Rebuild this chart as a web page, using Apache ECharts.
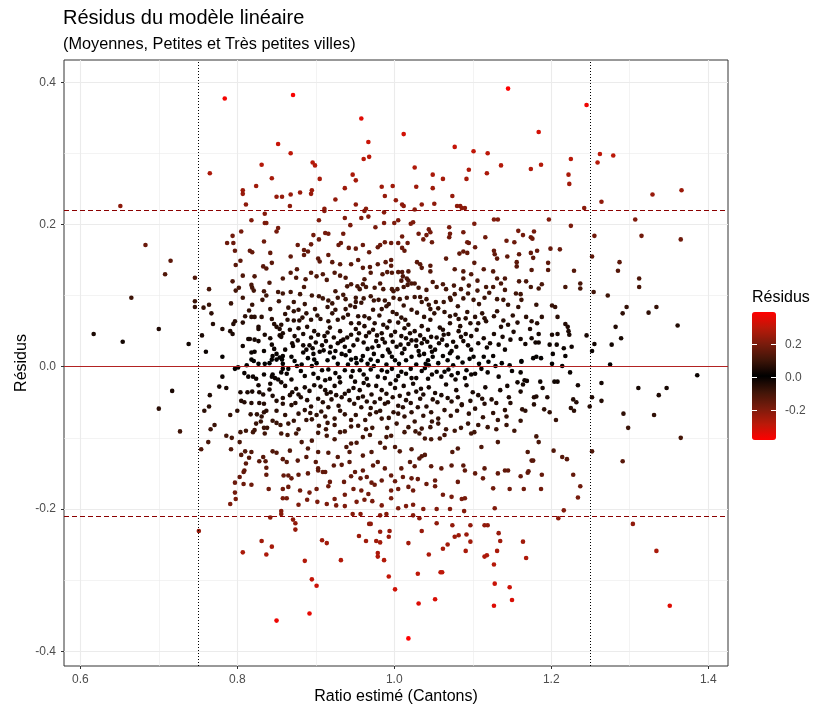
<!DOCTYPE html>
<html>
<head>
<meta charset="utf-8">
<script src="https://cdn.jsdelivr.net/npm/echarts@6/dist/echarts.min.js"></script>
<style>
  html, body { margin: 0; padding: 0; background: #fff; }
  #chart-container { width: 814px; height: 710px; }
</style>
</head>
<body>
<div id="chart-container"></div>
<script>
// axis ticks and reference lines
var xTicks = [0.6, 0.8, 1.0, 1.2, 1.4];
var xMinor = [0.7, 0.9, 1.1, 1.3];
var yTicks = [-0.4, -0.2, 0.0, 0.2, 0.4];
var yMinor = [-0.3, -0.1, 0.1, 0.3];
var seuilsRatio = [0.75, 1.25];
var seuilsResidus = [-0.2053, 0.2157];
var legendTicks = [-0.2, 0.0, 0.2];

// [ratio estimé, résidu]
var points = [
  [0.784,0.377],[0.852,0.313],[0.765,0.272],[0.831,0.284],[0.844,0.265],[0.824,0.254],[0.807,0.248],[0.807,0.243],[0.850,0.239],[0.857,0.239],[0.811,0.228],[0.651,0.226],
  [0.871,0.382],[0.958,0.349],[0.967,0.316],[1.012,0.327],[0.868,0.300],[1.077,0.309],[1.101,0.303],[1.119,0.300],[1.145,0.391],[0.896,0.287],[0.899,0.283],[0.961,0.292],[0.968,0.295],[0.905,0.264],[0.947,0.270],[0.951,0.262],[0.937,0.251],[0.925,0.235],[0.868,0.242],[0.880,0.245],[0.894,0.243],[0.895,0.248],[0.867,0.226],[0.911,0.222],[0.951,0.228],[0.964,0.222],[0.984,0.253],[0.988,0.240],[0.998,0.254],[1.002,0.234],[1.010,0.228],[1.012,0.226],[1.026,0.280],[1.028,0.253],[1.026,0.221],[1.035,0.228],[1.049,0.270],[1.049,0.251],[1.051,0.229],[1.062,0.264],[1.074,0.240],[1.080,0.226],[1.084,0.226],[1.086,0.223],[1.090,0.223],[1.092,0.264],[1.095,0.277],[1.118,0.272],[1.136,0.283],
  [1.245,0.368],[1.184,0.330],[1.225,0.292],[1.262,0.299],[1.279,0.297],[1.259,0.287],[1.174,0.278],[1.187,0.284],[1.222,0.270],[1.223,0.257],[1.329,0.242],[1.366,0.248],[1.264,0.232],[1.242,0.223],
  [0.683,0.171],[0.715,0.149],[0.708,0.130],[0.746,0.125],[0.665,0.097],[0.617,0.046],[0.654,0.035],[0.700,0.053],[0.738,0.032],[0.746,0.092],[0.746,0.084],[0.764,0.109],[0.757,0.083],[0.764,0.087],[0.767,0.075],[0.769,0.060],[0.755,0.044],[0.760,0.021],[0.781,0.053],[0.781,0.014],[0.791,0.050],[0.794,0.046],[0.792,0.089],[0.794,0.120],[0.795,0.060],[0.797,0.064],[0.787,0.174],[0.794,0.184],[0.795,0.174],[0.805,0.190],[0.797,0.163],[0.798,0.143],[0.804,0.149],[0.807,0.128],[0.798,0.107],[0.802,0.111],[0.807,0.097],[0.807,0.062],[0.807,0.029],[0.818,0.206],[0.835,0.215],[0.835,0.202],[0.837,0.202],[0.850,0.190],[0.852,0.195],[0.834,0.176],[0.816,0.163],[0.819,0.161],[0.842,0.160],[0.844,0.146],[0.833,0.141],[0.837,0.138],[0.822,0.127],[0.841,0.118],[0.858,0.124],[0.818,0.115],[0.819,0.111],[0.821,0.107],[0.834,0.106],[0.837,0.100],[0.852,0.105],[0.858,0.103],[0.819,0.087],[0.815,0.079],[0.810,0.071],[0.818,0.070],[0.822,0.070],[0.831,0.070],[0.842,0.081],[0.827,0.056],[0.827,0.053],[0.844,0.067],[0.847,0.060],[0.850,0.056],[0.856,0.059],[0.854,0.053],[0.814,0.039],[0.816,0.039],[0.822,0.038],[0.827,0.036],[0.842,0.040],[0.854,0.044],[0.856,0.042],[0.844,0.031],[0.818,0.020],[0.822,0.021],[0.845,0.015],[0.850,0.018],[0.854,0.013],[0.858,0.015],[0.818,0.010],[0.821,0.008],[0.844,0.010],[0.850,0.010],[0.857,0.010],
  [0.904,0.206],[0.937,0.209],[0.944,0.199],[0.958,0.209],[0.967,0.211],[0.987,0.202],[0.976,0.196],[1.000,0.202],[1.005,0.206],[1.021,0.201],[1.024,0.203],[1.044,0.193],[1.041,0.185],[1.046,0.189],[1.070,0.196],[1.071,0.187],[1.088,0.189],[1.102,0.201],[1.116,0.182],[1.127,0.207],[1.132,0.207],[0.987,0.217],[0.911,0.219],[0.962,0.219],
  [0.897,0.185],[0.904,0.179],[0.912,0.188],[0.916,0.187],[0.877,0.171],[0.885,0.164],[0.890,0.162],[0.894,0.172],[0.885,0.157],[0.868,0.155],[0.929,0.171],[0.932,0.174],[0.935,0.187],[0.942,0.167],[0.951,0.166],[0.960,0.171],[0.968,0.161],[0.979,0.168],[0.982,0.171],[0.988,0.175],[0.996,0.174],[1.005,0.174],[1.010,0.183],[1.010,0.167],[1.013,0.163],[1.017,0.174],[1.031,0.187],[1.037,0.179],[1.048,0.175],[1.070,0.182],[1.093,0.175],[1.095,0.174],[1.103,0.168],[1.088,0.162],[1.083,0.159],[1.093,0.160],[1.127,0.163],[1.128,0.158],[1.131,0.152],
  [0.916,0.157],[0.903,0.152],[0.905,0.148],[0.921,0.147],[0.931,0.144],[0.945,0.144],[0.954,0.150],[0.960,0.139],[0.969,0.140],[0.970,0.132],[0.979,0.144],[0.989,0.147],[0.996,0.150],[0.996,0.142],[0.997,0.132],[0.985,0.130],[0.991,0.133],[1.005,0.133],[1.010,0.133],[1.011,0.127],[1.018,0.134],[1.016,0.124],[1.022,0.117],[1.029,0.147],[1.033,0.144],[1.035,0.139],[1.046,0.142],[1.046,0.134],[1.066,0.152],[1.077,0.137],[1.088,0.134],[1.088,0.124],[1.098,0.130],[1.102,0.146],[1.106,0.121],[1.114,0.137],[1.126,0.134],[1.131,0.124],[1.141,0.124],[0.868,0.132],[0.876,0.137],[0.875,0.125],[0.887,0.123],[0.894,0.132],[0.901,0.127],[0.914,0.122],[0.909,0.130],[0.924,0.132],[0.931,0.128],[0.938,0.125],[0.940,0.113],[0.945,0.116],[0.953,0.113],[0.956,0.109],[0.960,0.116],[0.964,0.112],[0.962,0.123],[0.975,0.111],[0.986,0.109],[0.997,0.109],[1.004,0.109],[0.999,0.106],[1.009,0.121],[1.012,0.112],[1.017,0.115],[1.018,0.121],[1.026,0.117],[1.031,0.111],[1.041,0.108],[1.054,0.112],[1.062,0.116],[1.066,0.109],[1.076,0.114],[1.085,0.109],[1.095,0.114],[1.106,0.107],[1.117,0.112],[1.126,0.112],[1.136,0.117],[1.141,0.108],
  [0.868,0.105],[0.880,0.102],[0.895,0.100],[0.904,0.099],[0.909,0.096],[0.916,0.093],[0.928,0.097],[0.938,0.095],[0.951,0.097],[0.951,0.091],[0.961,0.096],[0.970,0.099],[0.974,0.093],[0.980,0.094],[0.988,0.093],[0.999,0.097],[1.007,0.095],[1.016,0.097],[1.026,0.098],[1.033,0.098],[1.035,0.091],[1.041,0.095],[1.053,0.091],[1.063,0.091],[1.071,0.097],[1.072,0.094],[1.077,0.102],[1.088,0.096],[1.101,0.094],[1.115,0.097],[1.131,0.095],[1.139,0.094],[0.865,0.083],[0.878,0.080],[0.888,0.075],[0.899,0.081],[0.915,0.084],[0.925,0.080],[0.938,0.081],[0.950,0.084],[0.954,0.071],[0.962,0.071],[0.973,0.080],[0.984,0.081],[0.990,0.085],[0.998,0.077],[1.009,0.069],[1.022,0.080],[1.029,0.076],[1.046,0.081],[1.056,0.082],[1.064,0.077],[1.071,0.071],[1.082,0.067],[1.093,0.077],[1.103,0.070],[1.115,0.068],[1.127,0.071],[1.139,0.065],[0.864,0.066],[0.872,0.065],[0.879,0.065],[0.894,0.066],[0.906,0.067],[0.916,0.064],[0.928,0.066],[0.935,0.069],[0.945,0.061],[0.955,0.061],[0.975,0.061],[0.986,0.059],[0.994,0.064],[1.005,0.062],[1.018,0.059],[1.035,0.057],[1.046,0.066],[1.058,0.055],[1.071,0.061],[1.084,0.057],[1.097,0.061],[1.107,0.061],[1.117,0.064],[1.136,0.056],
  [0.867,0.052],[0.878,0.054],[0.884,0.046],[0.894,0.041],[0.903,0.045],[0.911,0.043],[0.915,0.048],[0.923,0.041],[0.935,0.038],[0.945,0.045],[0.955,0.047],[0.964,0.043],[0.973,0.052],[0.984,0.047],[0.996,0.044],[1.009,0.043],[1.020,0.047],[1.028,0.037],[1.038,0.039],[1.047,0.042],[1.054,0.041],[1.063,0.045],[1.075,0.035],[1.085,0.042],[1.098,0.043],[1.114,0.040],[1.122,0.033],[0.870,0.033],[0.871,0.029],[0.884,0.030],[0.892,0.030],[0.900,0.034],[0.908,0.030],[0.919,0.028],[0.928,0.033],[0.937,0.028],[0.948,0.030],[0.961,0.034],[0.972,0.027],[0.980,0.029],[0.988,0.034],[0.998,0.035],[1.008,0.031],[1.018,0.032],[1.028,0.029],[1.035,0.033],[1.046,0.028],[1.057,0.033],[1.067,0.030],[1.079,0.028],[1.094,0.030],[1.107,0.033],[0.869,0.014],[0.884,0.020],[0.897,0.018],[0.910,0.023],[0.923,0.013],[0.938,0.016],[0.951,0.012],[0.960,0.015],[0.974,0.018],[0.985,0.015],[0.997,0.014],[1.010,0.019],[1.022,0.014],[1.038,0.018],[1.049,0.014],[1.062,0.015],[1.081,0.013],[1.101,0.014],[1.114,0.014],[1.126,0.015],[0.898,0.010],[0.945,0.010],[0.958,0.009],[0.970,0.010],[1.001,0.009],[1.043,0.009],
  [1.197,0.207],[1.225,0.198],[1.307,0.207],[1.255,0.184],[1.315,0.184],[1.365,0.179],[1.158,0.191],[1.164,0.185],[1.174,0.182],[1.176,0.180],[1.178,0.190],[1.153,0.175],[1.143,0.177],[1.199,0.166],[1.211,0.165],[1.159,0.158],[1.174,0.160],[1.177,0.153],[1.182,0.163],[1.144,0.155],[1.156,0.147],[1.156,0.141],[1.196,0.146],[1.196,0.136],[1.175,0.136],[1.229,0.135],[1.252,0.155],[1.287,0.147],[1.285,0.135],[1.312,0.124],[1.312,0.112],[1.159,0.120],[1.168,0.120],[1.174,0.112],[1.184,0.110],[1.188,0.116],[1.218,0.112],[1.237,0.117],[1.237,0.110],[1.254,0.105],[1.272,0.100],[1.155,0.103],[1.161,0.102],[1.162,0.094],[1.145,0.087],[1.158,0.084],[1.181,0.087],[1.201,0.086],[1.205,0.084],[1.296,0.084],[1.291,0.075],[1.324,0.076],[1.334,0.084],[1.361,0.058],[1.282,0.056],[1.289,0.040],[1.277,0.031],[1.255,0.032],[1.252,0.022],[1.245,0.044],[1.208,0.070],[1.188,0.070],[1.168,0.070],[1.175,0.064],[1.182,0.061],[1.157,0.062],[1.145,0.059],[1.173,0.053],[1.184,0.046],[1.218,0.060],[1.221,0.056],[1.222,0.050],[1.223,0.045],[1.201,0.045],[1.208,0.046],[1.148,0.038],[1.161,0.039],[1.175,0.040],[1.167,0.032],[1.180,0.034],[1.184,0.034],[1.198,0.031],[1.207,0.031],[1.226,0.028],[1.216,0.026],[1.218,0.015],[1.202,0.018],[1.177,0.012],[1.181,0.014],[1.187,0.012],[1.162,0.008],
  [0.717,-0.034],[0.700,-0.059],[0.727,-0.091],[0.781,-0.014],[0.777,-0.028],[0.786,-0.030],[0.765,-0.040],[0.764,-0.056],[0.758,-0.062],[0.766,-0.088],[0.771,-0.082],[0.763,-0.106],[0.754,-0.116],[0.786,-0.097],[0.793,-0.100],[0.791,-0.068],[0.800,-0.062],[0.792,-0.116],[0.803,-0.106],[0.797,-0.003],[0.801,-0.001],[0.809,-0.009],[0.814,-0.014],[0.820,-0.014],[0.824,-0.017],[0.804,-0.036],[0.813,-0.036],[0.819,-0.035],[0.828,-0.036],[0.827,-0.026],[0.833,-0.039],[0.805,-0.048],[0.809,-0.050],[0.818,-0.051],[0.828,-0.051],[0.834,-0.052],[0.817,-0.067],[0.825,-0.067],[0.834,-0.064],[0.837,-0.062],[0.850,-0.062],[0.831,-0.070],[0.845,-0.076],[0.850,-0.079],[0.855,-0.082],[0.824,-0.080],[0.830,-0.077],[0.822,-0.089],[0.820,-0.092],[0.834,-0.086],[0.838,-0.086],[0.835,-0.094],[0.804,-0.092],[0.811,-0.090],[0.810,-0.119],[0.818,-0.120],[0.805,-0.124],[0.815,-0.128],[0.811,-0.136],[0.809,-0.146],[0.808,-0.148],[0.828,-0.133],[0.833,-0.127],[0.836,-0.133],[0.837,-0.142],[0.837,-0.152],[0.845,-0.119],[0.850,-0.121],[0.858,-0.130],[0.859,-0.153],[0.803,-0.155],[0.797,-0.163],[0.808,-0.165],[0.818,-0.166],[0.797,-0.177],[0.798,-0.186],[0.791,-0.193],[0.840,-0.172],[0.858,-0.172],[0.858,-0.185],[0.856,-0.203],[0.845,-0.011],[0.848,-0.016],[0.841,-0.032],[0.844,-0.014],[0.835,0.004],[0.841,0.005],[0.856,-0.022],[0.856,-0.008],[0.850,-0.048],[0.858,-0.044],[0.858,-0.003],
  [0.863,-0.010],[0.876,0.001],[0.895,0.001],[0.908,-0.005],[0.925,-0.009],[0.937,-0.005],[0.956,-0.005],[0.974,0.001],[0.984,-0.005],[0.991,-0.007],[1.009,-0.007],[1.021,-0.003],[1.035,-0.006],[1.044,0.002],[1.054,-0.007],[1.064,-0.007],[1.081,-0.009],[1.092,-0.005],[1.103,-0.010],[1.119,-0.008],[1.129,0.001],[0.865,-0.003],[0.886,-0.013],[0.903,-0.016],[0.918,-0.017],[0.945,-0.014],[0.965,-0.017],[0.988,-0.016],[1.005,-0.013],[1.022,-0.016],[1.043,-0.017],[1.060,-0.014],[1.073,-0.012],[1.090,-0.016],
  [0.875,-0.031],[0.886,-0.029],[0.898,-0.026],[0.912,-0.033],[0.924,-0.027],[0.926,-0.040],[0.937,-0.038],[0.948,-0.030],[0.956,-0.033],[0.967,-0.026],[0.971,-0.039],[0.984,-0.033],[1.001,-0.030],[1.007,-0.041],[1.018,-0.038],[1.028,-0.035],[1.037,-0.039],[1.049,-0.046],[1.060,-0.040],[1.073,-0.049],[1.086,-0.053],[1.107,-0.040],[1.124,-0.046],[0.867,-0.040],[0.878,-0.039],[0.889,-0.047],[0.903,-0.045],[0.914,-0.038],[0.933,-0.043],[0.943,-0.047],[0.954,-0.044],[0.965,-0.049],[0.975,-0.050],[0.992,-0.050],[1.015,-0.047],
  [0.869,-0.054],[0.878,-0.066],[0.886,-0.061],[0.901,-0.068],[0.907,-0.063],[0.916,-0.057],[0.924,-0.073],[0.937,-0.067],[0.945,-0.075],[0.958,-0.057],[0.969,-0.067],[0.977,-0.064],[0.988,-0.052],[0.999,-0.064],[1.011,-0.057],[1.022,-0.064],[1.030,-0.057],[1.047,-0.064],[1.056,-0.073],[1.064,-0.061],[1.086,-0.054],[1.103,-0.059],[1.115,-0.052],[1.132,-0.075],[1.141,-0.061],[0.865,-0.080],[0.888,-0.075],[0.895,-0.074],[0.924,-0.082],[0.954,-0.083],[0.972,-0.086],[0.984,-0.073],[1.003,-0.080],[1.035,-0.087],[1.056,-0.080],[1.077,-0.090],[1.094,-0.080],[1.107,-0.082],[1.119,-0.085],
  [0.864,-0.096],[0.875,-0.094],[0.882,-0.106],[0.895,-0.104],[0.903,-0.093],[0.914,-0.097],[0.924,-0.102],[0.931,-0.092],[0.939,-0.113],[0.945,-0.108],[0.952,-0.107],[0.960,-0.099],[0.969,-0.096],[0.982,-0.107],[0.990,-0.099],[0.996,-0.097],[1.007,-0.119],[1.013,-0.092],[1.022,-0.116],[1.032,-0.094],[1.039,-0.101],[1.047,-0.102],[1.058,-0.101],[1.064,-0.096],[1.074,-0.120],[1.081,-0.115],[1.098,-0.094],[1.111,-0.113],[1.132,-0.106],[0.867,-0.118],[0.890,-0.115],[0.903,-0.120],[0.916,-0.121],[0.928,-0.127],[0.943,-0.120],[0.960,-0.125],[0.971,-0.120],[0.988,-0.114],[1.001,-0.113],[1.035,-0.126],
  [0.863,-0.134],[0.877,-0.132],[0.888,-0.127],[0.900,-0.134],[0.903,-0.143],[0.912,-0.148],[0.923,-0.139],[0.933,-0.138],[0.943,-0.134],[0.950,-0.148],[0.960,-0.146],[0.965,-0.155],[0.973,-0.139],[0.979,-0.134],[0.988,-0.143],[0.996,-0.153],[1.009,-0.143],[1.011,-0.155],[1.020,-0.134],[1.026,-0.140],[1.032,-0.129],[1.039,-0.124],[1.047,-0.140],[1.060,-0.143],[1.073,-0.139],[1.088,-0.139],[1.090,-0.146],[1.103,-0.150],[1.115,-0.143],[1.132,-0.150],[0.865,-0.153],[0.869,-0.157],[0.878,-0.152],[0.890,-0.150],[0.903,-0.146],[0.909,-0.148],[0.918,-0.162],[0.936,-0.162],[0.945,-0.154],[0.957,-0.157],[0.971,-0.163],[0.984,-0.160],[1.001,-0.161],[1.022,-0.157],[1.030,-0.158],[1.052,-0.160],[1.081,-0.162],[1.113,-0.157],[1.141,-0.146],
  [0.865,-0.169],[0.880,-0.174],[0.892,-0.177],[0.901,-0.172],[0.916,-0.168],[0.924,-0.186],[0.937,-0.180],[0.948,-0.172],[0.958,-0.174],[0.967,-0.179],[0.975,-0.166],[0.996,-0.174],[1.005,-0.172],[1.018,-0.169],[1.024,-0.174],[1.041,-0.165],[1.052,-0.168],[1.062,-0.180],[1.073,-0.183],[1.086,-0.186],[1.090,-0.185],[1.126,-0.171],[0.863,-0.185],[0.878,-0.194],[0.889,-0.187],[0.902,-0.190],[0.914,-0.193],[0.926,-0.195],[0.937,-0.196],[0.952,-0.190],[0.962,-0.187],[0.972,-0.189],[0.984,-0.195],[0.996,-0.185],[1.005,-0.199],[1.015,-0.196],[1.024,-0.194],[1.037,-0.200],[1.054,-0.200],[1.071,-0.200],[1.089,-0.203],[1.128,-0.199],
  [1.147,0.002],[1.162,0.007],[1.201,0.004],[1.214,0.001],[1.275,0.003],[1.386,-0.012],[1.224,-0.008],[1.161,-0.008],[1.157,-0.022],[1.164,-0.025],[1.166,-0.019],[1.169,-0.020],[1.144,-0.027],[1.186,-0.021],[1.189,-0.030],[1.204,-0.021],[1.208,-0.021],[1.234,-0.026],[1.264,-0.023],[1.161,-0.035],[1.178,-0.043],[1.181,-0.042],[1.195,-0.043],[1.148,-0.051],[1.178,-0.053],[1.252,-0.043],[1.264,-0.048],[1.311,-0.030],[1.337,-0.040],[1.347,-0.030],[1.228,-0.046],[1.232,-0.050],[1.225,-0.058],[1.229,-0.062],[1.249,-0.056],[1.163,-0.060],[1.167,-0.062],[1.191,-0.060],[1.198,-0.064],[1.143,-0.070],[1.161,-0.076],[1.206,-0.075],[1.292,-0.066],[1.331,-0.068],[1.298,-0.086],[1.143,-0.082],[1.153,-0.090],[1.181,-0.098],[1.184,-0.106],[1.365,-0.100],[1.252,-0.119],[1.291,-0.133],[1.170,-0.120],[1.175,-0.132],[1.177,-0.132],[1.203,-0.118],[1.214,-0.127],[1.220,-0.130],[1.145,-0.146],[1.170,-0.149],[1.171,-0.147],[1.161,-0.154],[1.188,-0.152],[1.228,-0.152],[1.237,-0.168],[1.147,-0.172],[1.165,-0.172],[1.187,-0.172],[1.234,-0.184],[1.216,-0.202],
  [0.751,-0.231],[0.807,-0.261],[0.831,-0.245],[0.844,-0.253],[0.837,-0.264],[0.842,-0.212],[0.856,-0.207],[0.850,-0.357],
  [0.871,-0.215],[0.874,-0.220],[0.874,-0.229],[0.886,-0.273],[0.895,-0.299],[0.901,-0.308],[0.892,-0.347],[0.908,-0.244],[0.914,-0.248],[0.932,-0.272],[0.955,-0.238],[0.964,-0.245],[0.968,-0.221],[0.970,-0.221],[0.982,-0.209],[0.990,-0.207],[0.982,-0.232],[0.977,-0.245],[0.982,-0.247],[0.979,-0.262],[0.979,-0.267],[0.987,-0.272],[0.993,-0.239],[0.994,-0.231],[0.993,-0.295],[1.001,-0.313],[1.018,-0.248],[1.024,-0.209],[1.032,-0.213],[1.035,-0.231],[1.030,-0.291],[1.031,-0.333],[1.018,-0.382],[1.044,-0.264],[1.052,-0.327],[1.054,-0.220],[1.059,-0.289],[1.061,-0.289],[1.062,-0.256],[1.068,-0.250],[1.074,-0.223],[1.077,-0.239],[1.082,-0.237],[1.091,-0.259],[1.092,-0.236],[1.097,-0.223],[1.097,-0.246],[1.115,-0.223],[1.119,-0.223],[1.133,-0.234],[1.135,-0.245],[1.115,-0.267],[1.118,-0.265],[1.131,-0.259],[1.127,-0.278],[1.128,-0.305],[1.127,-0.336],[0.947,-0.207],[0.957,-0.207],
  [1.209,-0.213],[1.304,-0.221],[1.164,-0.246],[1.168,-0.269],[1.334,-0.259],[1.147,-0.310],[1.150,-0.328],[1.351,-0.336],
  // denser core, estimated where the marks overlap
  [0.872,0.091],[0.886,0.088],[0.921,0.089],[0.944,0.086],[0.958,0.090],[0.993,0.088],[1.012,0.086],[1.044,0.087],[1.081,0.085],[1.108,0.088],[0.853,0.092],[0.832,0.094],
  [0.861,0.074],[0.883,0.069],[0.902,0.072],[0.921,0.075],[0.941,0.073],[0.968,0.068],[0.981,0.072],[1.003,0.074],[1.014,0.066],[1.038,0.070],[1.051,0.075],[1.078,0.073],[1.091,0.068],[1.112,0.075],[1.131,0.078],[1.151,0.072],[0.872,0.078],
  [0.858,0.047],[0.873,0.043],[0.889,0.056],[0.898,0.050],[0.918,0.055],[0.931,0.050],[0.951,0.053],[0.962,0.057],[0.978,0.044],[0.991,0.055],[1.001,0.049],[1.013,0.054],[1.026,0.050],[1.033,0.044],[1.043,0.052],[1.062,0.052],[1.069,0.046],[1.082,0.050],[1.091,0.046],[1.105,0.052],[1.127,0.046],[1.138,0.042],[1.152,0.049],[0.835,0.045],[0.940,0.041],[0.968,0.048],[1.015,0.040],
  [0.861,0.024],[0.877,0.037],[0.888,0.024],[0.896,0.026],[0.913,0.036],[0.925,0.022],[0.932,0.036],[0.943,0.022],[0.953,0.038],[0.966,0.025],[0.977,0.036],[0.992,0.024],[1.003,0.028],[1.013,0.025],[1.022,0.037],[1.031,0.022],[1.042,0.035],[1.052,0.024],[1.061,0.038],[1.073,0.022],[1.088,0.036],[1.098,0.024],[1.118,0.027],[1.133,0.031],[1.141,0.024],[0.847,0.025],[0.834,0.022],[0.905,0.021],[0.985,0.039],[1.048,0.021],
  [0.858,0.004],[0.873,0.008],[0.882,0.003],[0.890,0.012],[0.901,0.005],[0.915,0.009],[0.928,0.004],[0.933,0.018],[0.941,0.003],[0.952,0.005],[0.966,0.004],[0.979,0.008],[0.990,0.003],[0.994,0.020],[1.006,0.004],[1.015,0.009],[1.028,0.003],[1.032,0.016],[1.040,0.004],[1.056,0.005],[1.068,0.009],[1.075,0.002],[1.087,0.006],[1.096,0.011],[1.108,0.004],[1.120,0.007],[1.137,0.005],[0.827,0.004],[0.812,0.002],[0.918,0.020],[1.071,0.019],
  [0.869,-0.018],[0.881,-0.006],[0.897,-0.010],[0.916,-0.004],[0.930,-0.015],[0.947,-0.006],[0.961,-0.011],[0.970,-0.004],[0.979,-0.014],[0.997,-0.003],[1.002,-0.019],[1.015,-0.010],[1.028,-0.016],[1.048,-0.011],[1.069,-0.004],[1.078,-0.018],[1.098,-0.011],[1.111,-0.003],[1.133,-0.014],[1.150,-0.006],[0.834,-0.011],[0.852,-0.018],[0.912,-0.019],[1.039,-0.002],
  [0.861,-0.027],[0.870,-0.036],[0.892,-0.034],[0.906,-0.028],[0.919,-0.036],[0.931,-0.022],[0.942,-0.034],[0.961,-0.023],[0.977,-0.027],[0.990,-0.038],[0.995,-0.024],[1.012,-0.027],[1.024,-0.024],[1.044,-0.029],[1.052,-0.037],[1.066,-0.025],[1.079,-0.033],[1.092,-0.026],[1.100,-0.036],[1.116,-0.029],[1.135,-0.033],[0.842,-0.024],[0.950,-0.021],[1.034,-0.031],
  [0.858,-0.052],[0.874,-0.051],[0.881,-0.043],[0.894,-0.056],[0.909,-0.050],[0.920,-0.046],[0.929,-0.055],[0.949,-0.052],[0.960,-0.042],[0.982,-0.045],[0.998,-0.043],[1.005,-0.055],[1.021,-0.051],[1.033,-0.045],[1.041,-0.056],[1.055,-0.050],[1.068,-0.044],[1.081,-0.043],[1.097,-0.048],[1.112,-0.045],[1.130,-0.051],[1.146,-0.043],[0.845,-0.041],[0.970,-0.058],
  [0.861,-0.068],[0.872,-0.076],[0.893,-0.065],[0.912,-0.070],[0.931,-0.062],[0.951,-0.068],[0.963,-0.075],[0.982,-0.062],[0.993,-0.072],[1.013,-0.070],[1.026,-0.077],[1.037,-0.069],[1.048,-0.077],[1.072,-0.069],[1.080,-0.062],[1.095,-0.066],[1.113,-0.071],[1.126,-0.065],[0.915,-0.079],[1.005,-0.066],
  [0.878,-0.088],[0.904,-0.083],[0.913,-0.088],[0.937,-0.091],[0.945,-0.084],[0.964,-0.088],[0.991,-0.086],[1.018,-0.085],[1.027,-0.091],[1.046,-0.085],[1.066,-0.088],[1.085,-0.086],[1.102,-0.092],[1.130,-0.088],[0.856,-0.094],
  [0.885,0.112],[0.925,0.106],[0.982,0.117],[1.049,0.119],[1.094,0.103],[0.935,0.101],[1.121,0.104]
];

var chartDom = document.getElementById("chart-container");
var myChart = echarts.init(chartDom);

var FONT = "Liberation Sans, Arial, sans-serif";
var legMin = -0.382, legMax = 0.392;
var barLeft = 752, barTop = 312, barW = 24, barH = 128;
var coulRes = ["#ff0000", "#ba1909", "#7a1b0c", "#401508", "#000000", "#401508", "#7a1b0c", "#ba1909", "#ff0000"];

function vLines(vals, style) {
  return vals.map(function (v) { return { xAxis: v, lineStyle: style }; });
}
function hLines(vals, style) {
  return vals.map(function (v) { return { yAxis: v, lineStyle: style }; });
}

var grille = []
  .concat(vLines(xTicks, { color: "#ebebeb", width: 1.1, type: "solid" }))
  .concat(vLines(xMinor, { color: "#ebebeb", width: 0.6, type: "solid" }))
  .concat(hLines(yTicks.filter(function (v) { return v !== 0; }), { color: "#ebebeb", width: 1.1, type: "solid" }))
  .concat(hLines(yMinor, { color: "#ebebeb", width: 0.6, type: "solid" }));

var reperes = []
  .concat(vLines(seuilsRatio, { color: "#000000", width: 1, type: [1, 2] }))
  .concat(hLines(seuilsResidus, { color: "#8b0000", width: 1, type: [5, 3] }))
  .concat(hLines([0], { color: "#b22222", width: 1.1, type: "solid", opacity: 1 }));

// legend title, tick labels and white ticks on the colour bar
var legendGraphics = [{
  type: "text", x: barLeft, y: 298,
  style: { text: "Résidus", font: "16px " + FONT, fill: "#000", verticalAlign: "middle" }
}];
legendTicks.forEach(function (v) {
  var y = Math.round(barTop + (legMax - v) / (legMax - legMin) * barH) + 0.5;
  legendGraphics.push({
    type: "text", x: barLeft + barW + 9, y: y,
    style: { text: v.toFixed(1), font: "12px " + FONT, fill: "#4d4d4d", verticalAlign: "middle" }
  });
  legendGraphics.push({ type: "line", z: 100, shape: { x1: barLeft, y1: y, x2: barLeft + 5, y2: y }, style: { stroke: "#fff", lineWidth: 1 } });
  legendGraphics.push({ type: "line", z: 100, shape: { x1: barLeft + barW - 5, y1: y, x2: barLeft + barW, y2: y }, style: { stroke: "#fff", lineWidth: 1 } });
});

var option = {
  animation: false,
  backgroundColor: "#fff",
  textStyle: { fontFamily: FONT },
  title: [
    { text: "Résidus du modèle linéaire", left: 58, top: 3, textStyle: { fontSize: 20, fontWeight: "normal", color: "#000", fontFamily: FONT } },
    { text: "(Moyennes, Petites et Très petites villes)", left: 58, top: 32, textStyle: { fontSize: 16.3, fontWeight: "normal", color: "#000", fontFamily: FONT } }
  ],
  grid: {
    left: 64, top: 60, right: 86, bottom: 44, outerBoundsMode: "none",
    show: true, borderColor: "#333", borderWidth: 1, backgroundColor: "#fff", containLabel: false
  },
  xAxis: {
    type: "value", min: 0.5792, max: 1.4252,
    name: "Ratio estimé (Cantons)", nameLocation: "middle", nameGap: 23, nameMoveOverlap: false,
    nameTextStyle: { fontSize: 16, color: "#000", fontFamily: FONT },
    axisLine: { show: false, onZero: false }, splitLine: { show: false },
    axisTick: { show: true, customValues: xTicks, length: 3, lineStyle: { color: "#333" } },
    axisLabel: { customValues: xTicks, formatter: function (v) { return v.toFixed(1); }, color: "#4d4d4d", fontSize: 12, margin: 8 }
  },
  yAxis: {
    type: "value", min: -0.4208, max: 0.4312,
    name: "Résidus", nameLocation: "middle", nameGap: 34, nameRotate: 90, nameMoveOverlap: false,
    nameTextStyle: { fontSize: 16, color: "#000", fontFamily: FONT },
    axisLine: { show: false, onZero: false }, splitLine: { show: false },
    axisTick: { show: true, customValues: yTicks, length: 3, lineStyle: { color: "#333" } },
    axisLabel: { customValues: yTicks, formatter: function (v) { return v.toFixed(1); }, color: "#4d4d4d", fontSize: 12, margin: 8 }
  },
  visualMap: {
    type: "continuous", seriesIndex: 1, dimension: 1,
    min: legMin, max: legMax, calculable: false, realtime: false,
    left: barLeft - 15, top: barTop - 15, itemWidth: barW, itemHeight: barH,
    text: null, showLabel: false, hoverLink: false,
    inRange: { color: coulRes }
  },
  graphic: legendGraphics,
  series: [
    {
      type: "scatter", data: [], z: 1, silent: true,
      markLine: { z: 1, silent: true, symbol: "none", label: { show: false }, animation: false, data: grille }
    },
    {
      type: "scatter", name: "Résidus", data: points, symbolSize: 4.6, z: 3,
      itemStyle: { opacity: 1 }
    },
    {
      type: "line", data: [], z: 6, silent: true,
      markLine: { z: 6, silent: true, symbol: "none", label: { show: false }, animation: false, data: reperes }
    }
  ]
};

option && myChart.setOption(option);

window.addEventListener("resize", function () {
  myChart.resize();
});
</script>
</body>
</html>
